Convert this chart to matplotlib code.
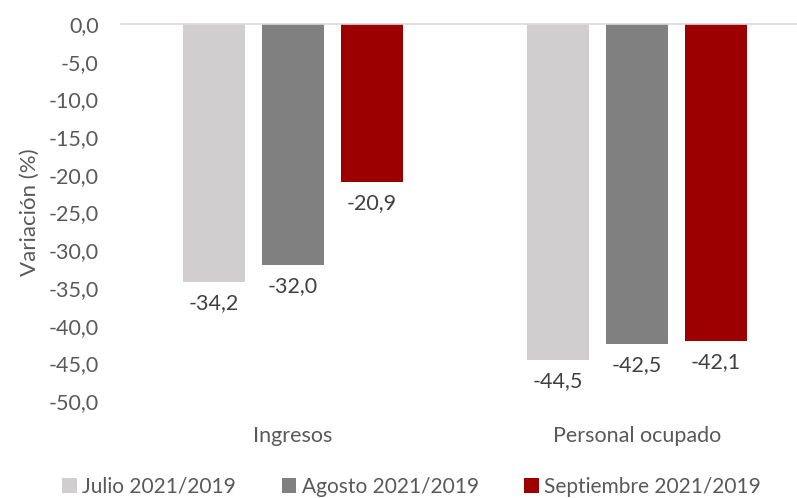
import numpy as np
import matplotlib.pyplot as plt

plt.rcParams['font.family'] = ['Lato', 'DejaVu Sans']

categorias = ["Ingresos", "Personal ocupado"]
series = ["Julio 2021/2019", "Agosto 2021/2019", "Septiembre 2021/2019"]
julio = [-34.2, -44.5]
agosto = [-32.0, -42.5]
septiembre = [-20.9, -42.1]
colores = ["#D0CECE", "#808080", "#9C0000"]
gris = "#595959"

fig = plt.figure(figsize=(7.97, 4.98), dpi=100)
ax = fig.add_axes([121/797, 1 - 401/498, 676/797, (401 - 24)/498])

x = np.arange(len(categorias))
ancho = 0.18
paso = 0.23
for i, (nombre, valores) in enumerate(zip(series, [julio, agosto, septiembre])):
    pos = x + (i - 1) * paso
    ax.bar(pos, valores, ancho, color=colores[i], label=nombre)
    for p, v in zip(pos, valores):
        ax.annotate(f"{v:.1f}".replace(".", ","), (p, v), xytext=(0, -8),
                    textcoords="offset points", ha="center", va="top",
                    fontsize=15.5, color="#404040")

ax.set_ylim(-50, 0)
ax.set_xlim(-0.5, 1.465)
ax.set_yticks(np.arange(-50, 1, 5))
ax.set_yticklabels([f"{t:.1f}".replace(".", ",") for t in np.arange(-50, 1, 5)])
ax.set_xticks(x)
ax.set_xticklabels(categorias)
ax.tick_params(axis="y", length=0, labelsize=15.5, labelcolor=gris, pad=16)
ax.tick_params(axis="x", length=0, labelsize=15.5, labelcolor=gris, pad=18)
for s in ["left", "right", "bottom"]:
    ax.spines[s].set_visible(False)
ax.spines["top"].set_color("#D9D9D9")
ax.spines["top"].set_linewidth(1.2)
ax.set_ylabel("Variación (%)", fontsize=16, color=gris, labelpad=6)

leg = ax.legend(loc="center", bbox_to_anchor=(0.43, -0.227), ncol=3, frameon=False,
                fontsize=15, labelcolor=gris, handlelength=0.7, handleheight=0.7,
                handletextpad=0.25, columnspacing=2.2, borderpad=0)

fig.savefig("out.png", dpi=100)
